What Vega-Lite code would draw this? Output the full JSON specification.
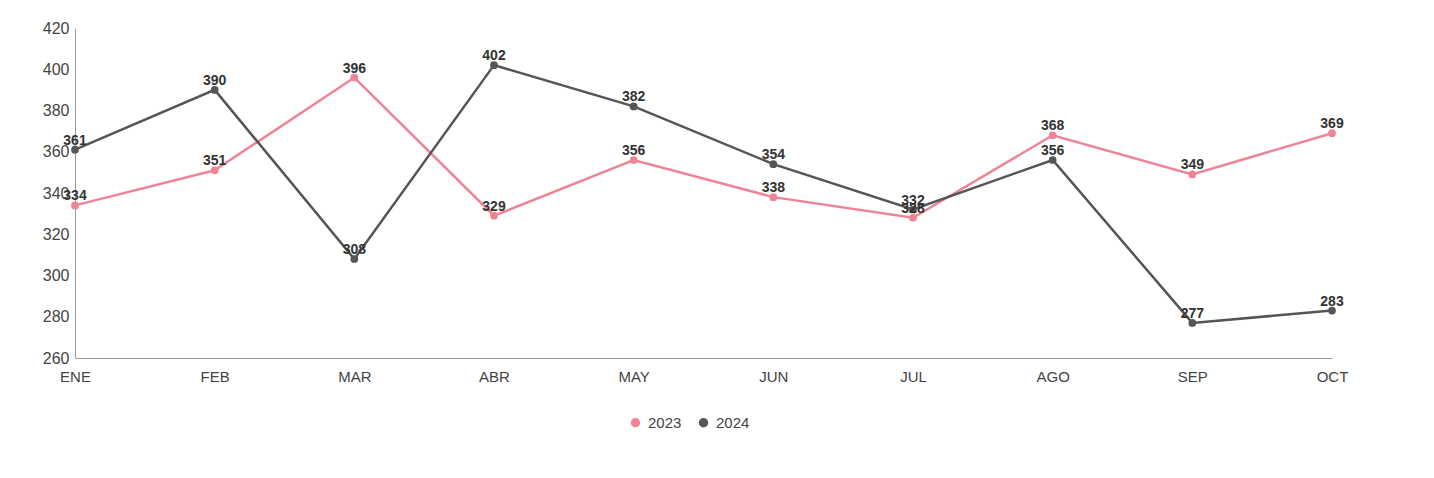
{
  "$schema": "https://vega.github.io/schema/vega-lite/v6.json",
  "autosize": "none",
  "width": 1257,
  "height": 330,
  "padding": {"left": 75, "top": 28, "right": 102, "bottom": 120},
  "config": {
    "font": "Liberation Sans",
    "view": {"stroke": null},
    "axis": {"grid": false, "ticks": false, "domainColor": "#999999", "labelColor": "#444444", "labelFontSize": 16, "title": null}
  },
  "data": {
    "values": [
      {"mes": "ENE", "anio": "2023", "valor": 334},
      {"mes": "FEB", "anio": "2023", "valor": 351},
      {"mes": "MAR", "anio": "2023", "valor": 396},
      {"mes": "ABR", "anio": "2023", "valor": 329},
      {"mes": "MAY", "anio": "2023", "valor": 356},
      {"mes": "JUN", "anio": "2023", "valor": 338},
      {"mes": "JUL", "anio": "2023", "valor": 328},
      {"mes": "AGO", "anio": "2023", "valor": 368},
      {"mes": "SEP", "anio": "2023", "valor": 349},
      {"mes": "OCT", "anio": "2023", "valor": 369},
      {"mes": "ENE", "anio": "2024", "valor": 361},
      {"mes": "FEB", "anio": "2024", "valor": 390},
      {"mes": "MAR", "anio": "2024", "valor": 308},
      {"mes": "ABR", "anio": "2024", "valor": 402},
      {"mes": "MAY", "anio": "2024", "valor": 382},
      {"mes": "JUN", "anio": "2024", "valor": 354},
      {"mes": "JUL", "anio": "2024", "valor": 332},
      {"mes": "AGO", "anio": "2024", "valor": 356},
      {"mes": "SEP", "anio": "2024", "valor": 277},
      {"mes": "OCT", "anio": "2024", "valor": 283}
    ]
  },
  "encoding": {
    "x": {
      "field": "mes",
      "type": "ordinal",
      "sort": ["ENE", "FEB", "MAR", "ABR", "MAY", "JUN", "JUL", "AGO", "SEP", "OCT"],
      "scale": {"type": "point", "padding": 0},
      "axis": {"labelAngle": 0, "labelPadding": 11, "labelFontSize": 15}
    },
    "y": {
      "field": "valor",
      "type": "quantitative",
      "scale": {"domain": [260, 420], "nice": false, "zero": false},
      "axis": {"values": [260, 280, 300, 320, 340, 360, 380, 400, 420], "labelPadding": 6}
    },
    "color": {
      "field": "anio",
      "type": "nominal",
      "scale": {"domain": ["2023", "2024"], "range": ["#F08497", "#555555"]},
      "legend": {
        "title": null,
        "orient": "none",
        "legendX": 553,
        "legendY": 387,
        "direction": "horizontal",
        "labelFontSize": 15,
        "labelColor": "#444444",
        "symbolType": "circle",
        "symbolSize": 90,
        "symbolStrokeWidth": 0,
        "symbolOffset": 0,
        "labelOffset": 5,
        "columnPadding": 14
      }
    }
  },
  "layer": [
    {"mark": {"type": "line", "strokeWidth": 2.5, "point": {"filled": true, "size": 60}}},
    {
      "mark": {"type": "text", "baseline": "bottom", "dy": -2, "fontSize": 14, "fontWeight": "bold", "color": "#333333"},
      "encoding": {"text": {"field": "valor", "type": "quantitative"}, "color": {"value": "#333333"}}
    }
  ]
}
